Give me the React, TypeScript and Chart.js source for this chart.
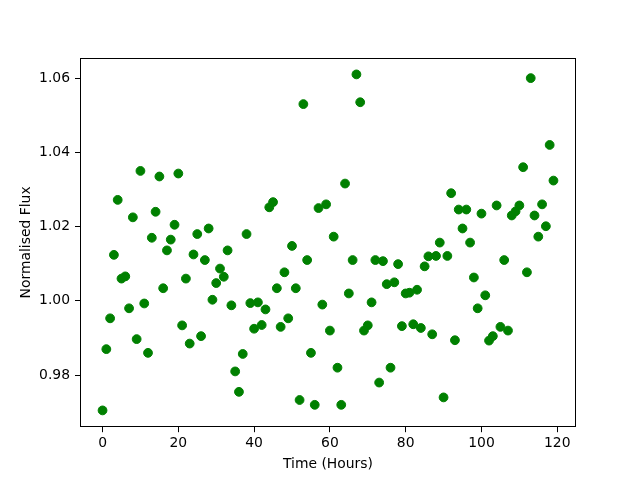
import React, { useEffect, useRef } from "react";
import { Chart, registerables } from "chart.js";

Chart.register(...registerables);

const hours: number[] = [
  0, 1, 2, 3, 4, 5, 6, 7, 8, 9, 10, 11, 12, 13, 14, 15, 16, 17, 18, 19,
  20, 21, 22, 23, 24, 25, 26, 27, 28, 29, 30, 31, 32, 33, 34, 35, 36, 37, 38, 39,
  40, 41, 42, 43, 44, 45, 46, 47, 48, 49, 50, 51, 52, 53, 54, 55, 56, 57, 58, 59,
  60, 61, 62, 63, 64, 65, 66, 67, 68, 69, 70, 71, 72, 73, 74, 75, 76, 77, 78, 79,
  80, 81, 82, 83, 84, 85, 86, 87, 88, 89, 90, 91, 92, 93, 94, 95, 96, 97, 98, 99,
  100, 101, 102, 103, 104, 105, 106, 107, 108, 109, 110, 111, 112, 113, 114, 115, 116, 117, 118, 119,
];

const flux: number[] = [
  0.9705, 0.9870, 0.9953, 1.0124, 1.0272, 1.0060, 1.0066, 0.9980, 1.0225, 0.9897,
  1.0350, 0.9993, 0.9860, 1.0170, 1.0240, 1.0335, 1.0034, 1.0136, 1.0165, 1.0205,
  1.0343, 0.9934, 1.0060, 0.9885, 1.0125, 1.0180, 0.9905, 1.0110, 1.0195, 1.0003,
  1.0048, 1.0087, 1.0065, 1.0136, 0.9988, 0.9810, 0.9755, 0.9857, 1.0180, 0.9994,
  0.9925, 0.9996, 0.9935, 0.9977, 1.0252, 1.0266, 1.0034, 0.9930, 1.0077, 0.9953,
  1.0148, 1.0034, 0.9733, 1.0530, 1.0110, 0.9860, 0.9720, 1.0250, 0.9990, 1.0260,
  0.9920, 1.0173, 0.9820, 0.9720, 1.0316, 1.0020, 1.0110, 1.0610, 1.0535, 0.9920,
  0.9934, 0.9996, 1.0110, 0.9780, 1.0107, 1.0045, 0.9820, 1.0050, 1.0099, 0.9932,
  1.0020, 1.0022, 0.9937, 1.0030, 0.9927, 1.0093, 1.0120, 0.9910, 1.0121, 1.0157,
  0.9740, 1.0121, 1.0290, 0.9894, 1.0246, 1.0195, 1.0246, 1.0157, 1.0063, 0.9980,
  1.0235, 1.0015, 0.9893, 0.9905, 1.0257, 0.9930, 1.0110, 0.9920, 1.0230, 1.0241,
  1.0257, 1.0360, 1.0077, 1.0600, 1.0230, 1.0173, 1.0260, 1.0201, 1.0420, 1.0324,
];

const xTicks: number[] = [0, 20, 40, 60, 80, 100, 120];
const yTicks: number[] = [0.98, 1.0, 1.02, 1.04, 1.06];

const xTitle = "Time (Hours)";
const yTitle = "Normalised Flux";

const FONT = "'DejaVu Sans', sans-serif";
const FONT_SIZE = 13.9;

const framePlugin = {
  id: "frame",
  afterDatasetsDraw(chart: any) {
    const { ctx, chartArea } = chart;
    const l = Math.round(chartArea.left) + 0.5;
    const t = Math.round(chartArea.top) + 0.5;
    const r = Math.round(chartArea.right) - 0.5;
    const b = Math.round(chartArea.bottom) - 0.5;
    ctx.save();
    ctx.strokeStyle = "#000";
    ctx.lineWidth = 1;
    ctx.strokeRect(l, t, r - l, b - t);
    ctx.restore();
  },
};

export default function App() {
  const canvasRef = useRef<HTMLCanvasElement | null>(null);

  useEffect(() => {
    if (!canvasRef.current) return;
    const points = hours.map((h, i) => ({ x: h, y: flux[i] }));
    const chart = new Chart(canvasRef.current, {
      type: "scatter",
      data: {
        datasets: [
          {
            data: points,
            backgroundColor: "#008000",
            borderColor: "#008000",
            borderWidth: 1,
            pointRadius: 4.4,
          },
        ],
      },
      options: {
        animation: false,
        responsive: false,
        devicePixelRatio: 1,
        events: [],
        layout: { padding: { left: 0, top: 57.6, right: 64, bottom: 0 } },
        plugins: {
          legend: { display: false },
          tooltip: { enabled: false },
        },
        scales: {
          x: {
            type: "linear",
            min: -5.95,
            max: 124.95,
            afterFit: (s: any) => {
              s.height = 52.8;
            },
            afterBuildTicks: (s: any) => {
              s.ticks = xTicks.map((v) => ({ value: v }));
            },
            border: { display: false },
            grid: {
              display: true,
              drawOnChartArea: false,
              drawTicks: true,
              tickLength: 5,
              tickColor: "#000",
              tickWidth: 1,
            },
            ticks: {
              color: "#000",
              padding: 3,
              maxRotation: 0,
              autoSkip: false,
              font: { family: FONT, size: FONT_SIZE },
              callback: (v: any) => String(v),
            },
            title: {
              display: true,
              text: xTitle,
              color: "#000",
              padding: { top: 0, bottom: 7 },
              font: { family: FONT, size: FONT_SIZE },
            },
          },
          y: {
            type: "linear",
            min: 0.965975,
            max: 1.065525,
            afterFit: (s: any) => {
              s.width = 80;
            },
            afterBuildTicks: (s: any) => {
              s.ticks = yTicks.map((v) => ({ value: v }));
            },
            border: { display: false },
            grid: {
              display: true,
              drawOnChartArea: false,
              drawTicks: true,
              tickLength: 5,
              tickColor: "#000",
              tickWidth: 1,
            },
            ticks: {
              color: "#000",
              padding: 5,
              autoSkip: false,
              font: { family: FONT, size: FONT_SIZE },
              callback: (v: any) => Number(v).toFixed(2),
            },
            title: {
              display: true,
              text: yTitle,
              color: "#000",
              padding: { top: 18, bottom: 0 },
              font: { family: FONT, size: FONT_SIZE },
            },
          },
        },
      },
      plugins: [framePlugin],
    });
    return () => chart.destroy();
  }, []);

  return (
    <div style={{ position: "absolute", left: 0, top: 0, width: 640, height: 480, background: "#fff" }}>
      <canvas ref={canvasRef} width={640} height={480} style={{ display: "block", width: 640, height: 480 }} />
    </div>
  );
}
